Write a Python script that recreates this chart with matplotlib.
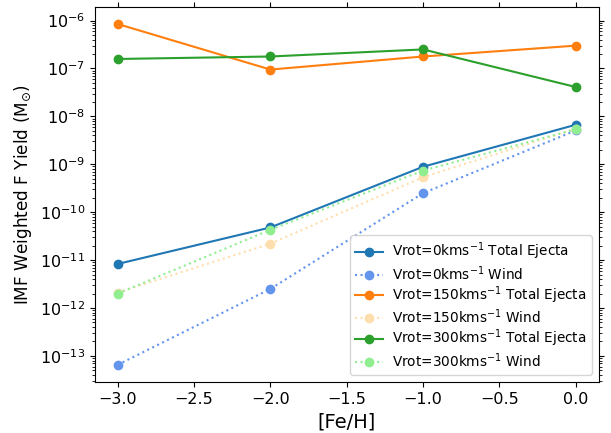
import matplotlib
matplotlib.use("Agg")
import matplotlib.pyplot as plt

feh = [-3.0, -2.0, -1.0, 0.0]

v0_total = [8.3e-12, 4.8e-11, 8.9e-10, 6.7e-9]
v0_wind = [6.5e-14, 2.5e-12, 2.5e-10, 5.1e-9]
v150_total = [8.5e-7, 9.5e-8, 1.78e-7, 3.0e-7]
v150_wind = [2.1e-12, 2.2e-11, 5.4e-10, 5.5e-9]
v300_total = [1.58e-7, 1.78e-7, 2.5e-7, 4.1e-8]
v300_wind = [2.0e-12, 4.3e-11, 7.4e-10, 5.4e-9]

labels = [
    r"Vrot=0kms$^{-1}$ Total Ejecta",
    r"Vrot=0kms$^{-1}$ Wind",
    r"Vrot=150kms$^{-1}$ Total Ejecta",
    r"Vrot=150kms$^{-1}$ Wind",
    r"Vrot=300kms$^{-1}$ Total Ejecta",
    r"Vrot=300kms$^{-1}$ Wind",
]

fig = plt.figure(figsize=(6.11, 4.33), dpi=100)
ax = fig.add_axes([0.155, 0.118, 0.825, 0.866])

ax.plot(feh, v0_total, '-o', color='#1f77b4', label=labels[0])
ax.plot(feh, v0_wind, ':o', color='cornflowerblue', label=labels[1])
ax.plot(feh, v150_total, '-o', color='#ff7f0e', label=labels[2])
ax.plot(feh, v150_wind, ':o', color='navajowhite', label=labels[3])
ax.plot(feh, v300_total, '-o', color='#2ca02c', label=labels[4])
ax.plot(feh, v300_wind, ':o', color='lightgreen', label=labels[5])

ax.set_yscale('log')
ax.set_xlabel('[Fe/H]', fontsize=14)
ax.set_ylabel(r'IMF Weighted F Yield (M$_{\odot}$)', fontsize=12.2)
ax.tick_params(which='both', top=True, right=True, labelsize=11.5)
ax.legend(loc='lower right', fontsize=9.8, labelspacing=0.12,
          handletextpad=0.7, borderaxespad=0.5)

fig.savefig('out.png', dpi=100)
